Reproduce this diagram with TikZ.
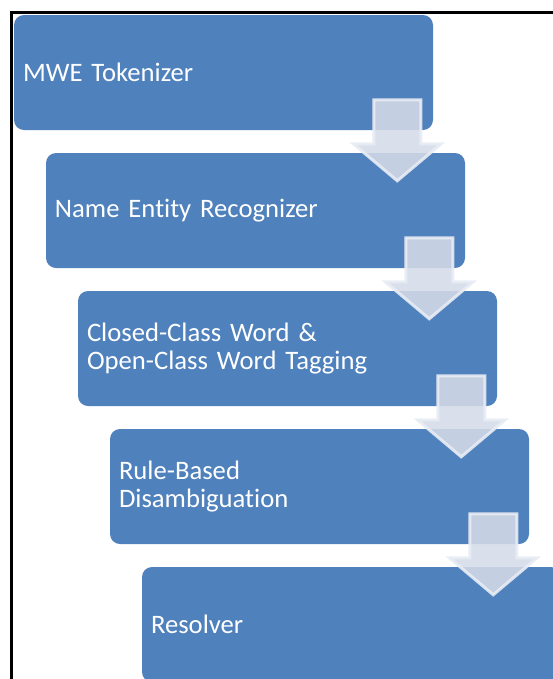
\documentclass[tikz,border=0pt]{standalone}
\usepackage{fontspec}
\setmainfont{Carlito}[Ligatures=NoCommon]
\definecolor{stepblue}{RGB}{79,129,189}
\definecolor{arrowfill}{RGB}{213,220,232}
\definecolor{arrowedge}{RGB}{232,236,244}

\newcommand{\stepdown}[1]{%
	\path[step arrow] (#1.south east) ++(-59.5,-30.5) -- ++(47,0) -- ++(0,44)
	-- ++(20.5,0) -- ++(-44,37) -- ++(-44,-37) -- ++(20.5,0) -- cycle;}

\begin{document}
\begin{tikzpicture}[x=0.75pt,y=-0.75pt,
	step box/.style={fill=stepblue, rounded corners=7.5pt, text=white,
		text width=300.75pt, inner xsep=6.75pt, inner ysep=0pt, align=left,
		minimum height=86.25pt, font=\fontsize{20}{20.6}\selectfont},
	step arrow/.style={fill=arrowfill, fill opacity=0.88, draw=arrowedge,
		draw opacity=0.9, line width=2.25pt, line join=miter}]
	\useasboundingbox (0,0) rectangle (553,679);
	\clip (0,0) rectangle (553,679);
	\draw[line width=1.6pt] (11.5,12.5) rectangle (570,700);

	\node[step box] (tok) at (223.5,72.5) {MWE Tokenizer};
	\node[step box] (ner) at (255.5,210.5) {Name Entity Recognizer};
	\node[step box] (tag) at (287.5,348.5) {Closed-Class Word \&\\Open-Class Word Tagging};
	\node[step box] (rule) at (319.5,486.5) {Rule-Based\\Disambiguation};
	\node[step box] (res) at (351.5,624.5) {Resolver};

	\stepdown{tok}
	\stepdown{ner}
	\stepdown{tag}
	\stepdown{rule}
\end{tikzpicture}
\end{document}
